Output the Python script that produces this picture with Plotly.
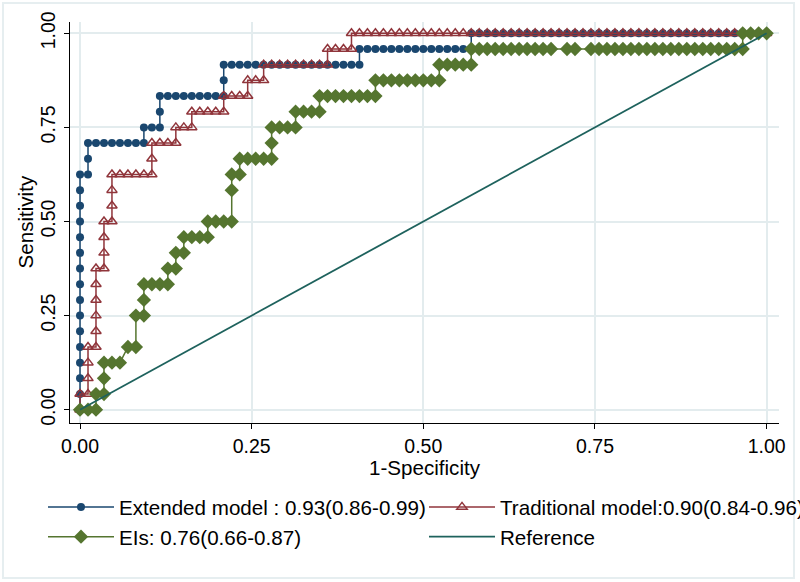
import plotly.graph_objects as go

# ---- data: ROC points as (false-positive count, true-positive count) ----
N_NEG = 86
N_POS = 24

ext_fp = [0]*16 + [1, 1, 1, 2, 3, 4, 5, 6, 7, 8, 8, 9, 10, 10, 10,
          11, 12, 13, 14, 15, 16, 17, 18, 18, 18,
          19, 20, 21, 22, 23, 24, 25, 26, 27, 28, 29, 30, 31, 32, 33, 34, 35, 35,
          36, 37, 38, 39, 40, 41, 42, 43, 44, 45, 46, 47, 48, 49, 49,
          50, 51, 52, 53, 54, 55, 56, 57, 58, 59, 60, 61, 62, 63, 64, 65, 66, 67,
          68, 69, 70, 71, 72, 73, 74, 75, 76, 77, 78, 79, 80, 81, 82, 83, 84, 85, 86]
ext_tp = [0, 1, 2, 3, 4, 5, 6, 7, 8, 9, 10, 11, 12, 13, 14, 15,
          15, 16, 17, 17, 17, 17, 17, 17, 17, 17, 18, 18, 18, 19, 20,
          20, 20, 20, 20, 20, 20, 20, 20, 21, 22,
          22, 22, 22, 22, 22, 22, 22, 22, 22, 22, 22, 22, 22, 22, 22, 22, 22, 23,
          23, 23, 23, 23, 23, 23, 23, 23, 23, 23, 23, 23, 23, 23, 24,
          24, 24, 24, 24, 24, 24, 24, 24, 24, 24, 24, 24, 24, 24, 24, 24, 24, 24,
          24, 24, 24, 24, 24, 24, 24, 24, 24, 24, 24, 24, 24, 24, 24, 24, 24, 24, 24]

trad_fp = [0, 0, 1, 1, 1, 1, 2, 2, 2, 2, 2, 2, 3, 3, 3, 3, 4, 4, 4, 4,
           5, 6, 7, 8, 9, 9, 9, 10, 11, 12, 12, 13, 14, 14, 15, 16, 17, 18,
           18, 19, 20, 21, 21, 22, 23, 23, 24, 25, 26, 27, 28, 29, 30, 31, 31,
           32, 33, 34, 34,
           35, 36, 37, 38, 39, 40, 41, 42, 43, 44, 45, 46, 47, 48, 49, 50, 51, 52,
           53, 54, 55, 56, 57, 58, 59, 60, 61, 62, 63, 64, 65, 66, 67, 68, 69, 70,
           71, 72, 73, 74, 75, 76, 77, 78, 79, 80, 81, 82, 83, 84, 85, 86]
trad_tp = [0, 1, 1, 2, 3, 4, 4, 5, 6, 7, 8, 9, 9, 10, 11, 12, 12, 13, 14, 15,
           15, 15, 15, 15, 15, 16, 17, 17, 17, 17, 18, 18, 18, 19, 19, 19, 19, 19,
           20, 20, 20, 20, 21, 21, 21, 22, 22, 22, 22, 22, 22, 22, 22, 22, 23,
           23, 23, 23, 24,
           24, 24, 24, 24, 24, 24, 24, 24, 24, 24, 24, 24, 24, 24, 24, 24, 24, 24,
           24, 24, 24, 24, 24, 24, 24, 24, 24, 24, 24, 24, 24, 24, 24, 24, 24, 24,
           24, 24, 24, 24, 24, 24, 24, 24, 24, 24, 24, 24, 24, 24, 24, 24]

eis_fp = [0, 1, 2, 2, 3, 3, 3, 4, 5, 6, 7, 7, 8, 8, 8, 9, 10, 11, 11, 12, 12, 13,
          13, 14, 15, 16, 16, 17, 18, 19, 19, 19, 20, 20, 21, 22, 23, 24, 24, 24,
          25, 26, 27, 27, 28, 29, 30, 30, 31, 32, 33, 34, 35, 36, 37, 37,
          38, 39, 40, 41, 42, 43, 44, 45, 45, 46, 47, 48, 49, 49,
          50, 51, 52, 53, 54, 55, 56, 57, 58, 59, 61, 62, 64, 65, 66, 67, 68, 69,
          70, 71, 72, 73, 74, 75, 76, 77, 78, 79, 80, 81, 82, 83, 83, 84, 85, 86]
eis_tp = [0, 0, 0, 1, 1, 2, 3, 3, 3, 4, 4, 6, 6, 7, 8, 8, 8, 8, 9, 9, 10, 10,
          11, 11, 11, 11, 12, 12, 12, 12, 14, 15, 15, 16, 16, 16, 16, 16, 17, 18,
          18, 18, 18, 19, 19, 19, 19, 20, 20, 20, 20, 20, 20, 20, 20, 21,
          21, 21, 21, 21, 21, 21, 21, 21, 22, 22, 22, 22, 22, 23,
          23, 23, 23, 23, 23, 23, 23, 23, 23, 23, 23, 23, 23, 23, 23, 23, 23, 23,
          23, 23, 23, 23, 23, 23, 23, 23, 23, 23, 23, 23, 23, 23, 24, 24, 24, 24]

ref_x = [0, 1]
ref_y = [0, 1]

tick_vals = [0, 0.25, 0.5, 0.75, 1.0]

labels = ["Extended model : 0.93(0.86-0.99)",
          "Traditional model:0.90(0.84-0.96)",
          "EIs: 0.76(0.66-0.87)",
          "Reference"]
x_title = "1-Specificity"
y_title = "Sensitivity"

# ---- styling ----
NAVY = "#1A476F"
MAROON = "#90353B"
GREEN = "#55752F"
TEAL = "#1E625D"
GRID = "#E3ECEE"
FONT = "Liberation Sans, Arial, sans-serif"
TXT = 20.6

W, H = 800, 582
L, R, T, B = 70, 21, 22, 159
PW, PH = W - L - R, H - T - B


def fx(px):
    return (px - L) / PW


def fy(py):
    return (H - B - py) / PH


fig = go.Figure()
fig.add_trace(go.Scatter(
    x=[v / N_NEG for v in ext_fp], y=[v / N_POS for v in ext_tp],
    mode="lines+markers", name=labels[0],
    line=dict(color=NAVY, width=1.5),
    marker=dict(symbol="circle", size=8, color=NAVY)))
fig.add_trace(go.Scatter(
    x=[v / N_NEG for v in trad_fp], y=[v / N_POS for v in trad_tp],
    mode="lines+markers", name=labels[1],
    line=dict(color=MAROON, width=1.5),
    marker=dict(symbol="triangle-up-open", size=9, color=MAROON,
                line=dict(width=1.5, color=MAROON))))
fig.add_trace(go.Scatter(
    x=[v / N_NEG for v in eis_fp], y=[v / N_POS for v in eis_tp],
    mode="lines+markers", name=labels[2],
    line=dict(color=GREEN, width=1.5),
    marker=dict(symbol="diamond", size=11, color=GREEN)))
fig.add_trace(go.Scatter(
    x=ref_x, y=ref_y, mode="lines", name=labels[3],
    line=dict(color=TEAL, width=1.8)))

axis_common = dict(
    showgrid=True, gridcolor=GRID, gridwidth=1.5,
    zeroline=False, showline=True, linecolor="black", linewidth=1,
    ticks="outside", ticklen=5, tickcolor="black", tickwidth=1,
    tickvals=tick_vals, tickformat=".2f",
    tickfont=dict(family=FONT, size=19.5, color="black"),
)

fig.update_layout(
    width=W, height=H,
    margin=dict(l=L, r=R, t=T, b=B, autoexpand=False),
    paper_bgcolor="white", plot_bgcolor="white",
    font=dict(family=FONT, size=TXT, color="black"),
    xaxis=dict(range=[-0.0146, 1.018], automargin=False,
               ticklabelstandoff=1, **axis_common),
    yaxis=dict(range=[-0.0353, 1.03], automargin=False, tickangle=-90,
               ticklabelstandoff=1, **axis_common),
    showlegend=True,
    legend=dict(orientation="h", x=fx(43), y=fy(487), xanchor="left", yanchor="top",
                itemwidth=66, entrywidth=300, entrywidthmode="pixels",
                font=dict(family=FONT, size=TXT, color="black"),
                bgcolor="rgba(0,0,0,0)", borderwidth=0, traceorder="normal"),
    annotations=[
        dict(text=y_title, xref="paper", yref="paper",
             x=fx(25), y=0.5, xanchor="center", yanchor="middle",
             textangle=-90, showarrow=False,
             font=dict(family=FONT, size=TXT, color="black")),
        dict(text=x_title, xref="paper", yref="paper",
             x=0.5, y=fy(467), xanchor="center", yanchor="middle",
             showarrow=False,
             font=dict(family=FONT, size=TXT, color="black")),
    ],
    shapes=[dict(type="rect", xref="paper", yref="paper",
                 x0=fx(3), x1=fx(794), y0=fy(578), y1=fy(3),
                 line=dict(color="#E6EEF0", width=2), fillcolor="rgba(0,0,0,0)",
                 layer="below")],
)

fig.write_html("out.html", config={"displayModeBar": False},
               post_script="document.body.style.margin='0px';")
